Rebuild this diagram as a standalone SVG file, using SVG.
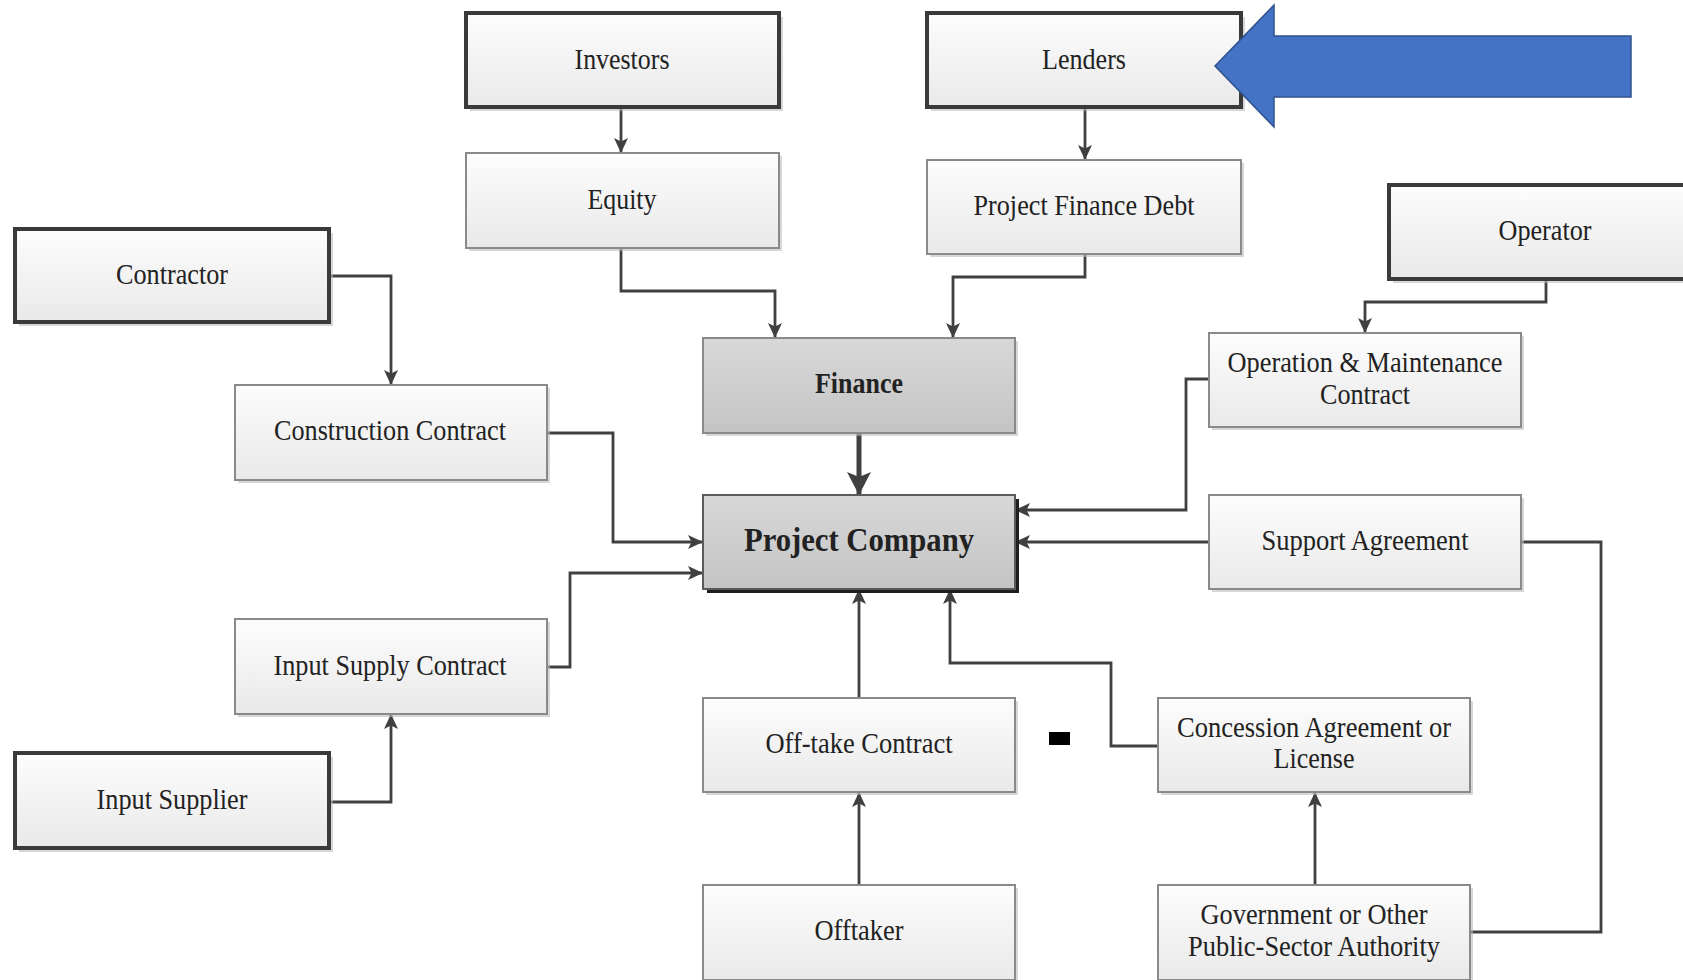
<svg xmlns="http://www.w3.org/2000/svg" width="1683" height="980" viewBox="0 0 1683 980">
<defs>
<linearGradient id="g" x1="0" y1="0" x2="0" y2="1"><stop offset="0" stop-color="#fdfdfd"/><stop offset="1" stop-color="#e9e9e9"/></linearGradient>
<linearGradient id="gd" x1="0" y1="0" x2="0" y2="1"><stop offset="0" stop-color="#d8d8d8"/><stop offset="1" stop-color="#c4c4c4"/></linearGradient>
<marker id="ar" markerUnits="userSpaceOnUse" markerWidth="16" markerHeight="16" refX="15" refY="8" orient="auto"><path d="M0,1 L15,8 L0,15 L3.5,8 z" fill="#404040"/></marker>
<marker id="arb" markerUnits="userSpaceOnUse" markerWidth="26" markerHeight="26" refX="23" refY="13" orient="auto"><path d="M0,1 L23,13 L0,25 L5,13 z" fill="#404040"/></marker>
<style>
.sh{fill:#bdbdbd;opacity:0.6}
.b{fill:url(#g);stroke:#8a8a8a;stroke-width:2}
.bk{fill:url(#g);stroke:#3a3a3a;stroke-width:4}
.bg{fill:url(#gd);stroke:#8a8a8a;stroke-width:2}
.t{font-family:"Liberation Serif","Times New Roman",serif;font-size:29px;fill:#222;text-anchor:middle;dominant-baseline:central}
.tb{font-weight:bold}
.c{fill:none;stroke:#404040;stroke-width:2.8;marker-end:url(#ar)}
.cn{fill:none;stroke:#404040;stroke-width:2.8}
</style>
</defs>
<rect width="1683" height="980" fill="#ffffff"/>

<g id="connectors">
<path class="c" d="M621,107 V153"/>
<path class="c" d="M1085,107 V160"/>
<path class="c" d="M621,248 V291 H775 V338"/>
<path class="c" d="M1085,254 V277 H953 V338"/>
<path d="M859,433 V495" fill="none" stroke="#404040" stroke-width="5" marker-end="url(#arb)"/>
<path class="c" d="M329,276 H391 V385"/>
<path class="c" d="M547,433 H613 V542 H703"/>
<path class="c" d="M547,667 H570 V573 H703"/>
<path class="c" d="M329,802 H391 V714"/>
<path class="c" d="M1546,279 V302 H1365 V333"/>
<path class="c" d="M1209,379 H1186 V510 H1015"/>
<path class="c" d="M1209,542 H1015"/>
<path class="c" d="M859,698 V589"/>
<path class="c" d="M859,885 V792"/>
<path class="c" d="M1158,746 H1111 V663 H950 V589"/>
<path class="c" d="M1315,885 V792"/>
<path class="cn" d="M1521,542 H1601 V932 H1470"/>
</g>

<g id="investors"><rect class="sh" x="470" y="17" width="313" height="94"/><rect class="bk" x="466" y="13" width="313" height="94"/><text class="t" x="622" y="59" textLength="95" lengthAdjust="spacingAndGlyphs">Investors</text></g>
<g id="lenders"><rect class="sh" x="931" y="17" width="314" height="94"/><rect class="bk" x="927" y="13" width="314" height="94"/><text class="t" x="1084" y="59" textLength="84" lengthAdjust="spacingAndGlyphs">Lenders</text></g>
<g id="equity"><rect class="sh" x="469" y="156" width="313" height="95"/><rect class="b" x="466" y="153" width="313" height="95"/><text class="t" x="622" y="199" textLength="69" lengthAdjust="spacingAndGlyphs">Equity</text></g>
<g id="pfdebt"><rect class="sh" x="930" y="163" width="314" height="94"/><rect class="b" x="927" y="160" width="314" height="94"/><text class="t" x="1084" y="205" textLength="221" lengthAdjust="spacingAndGlyphs">Project Finance Debt</text></g>
<g id="contractor"><rect class="sh" x="19" y="233" width="314" height="93"/><rect class="bk" x="15" y="229" width="314" height="93"/><text class="t" x="172" y="274" textLength="112" lengthAdjust="spacingAndGlyphs">Contractor</text></g>
<g id="operator"><rect class="sh" x="1393" y="189" width="310" height="94"/><rect class="bk" x="1389" y="185" width="310" height="94"/><text class="t" x="1545" y="230" textLength="93" lengthAdjust="spacingAndGlyphs">Operator</text></g>
<g id="construction"><rect class="sh" x="238" y="388" width="312" height="95"/><rect class="b" x="235" y="385" width="312" height="95"/><text class="t" x="390" y="430" textLength="232" lengthAdjust="spacingAndGlyphs">Construction Contract</text></g>
<g id="finance"><rect class="sh" x="706" y="341" width="312" height="95"/><rect class="bg" x="703" y="338" width="312" height="95"/><text class="t tb" x="859" y="383" textLength="88" lengthAdjust="spacingAndGlyphs">Finance</text></g>
<g id="om"><rect class="sh" x="1212" y="336" width="312" height="94"/><rect class="b" x="1209" y="333" width="312" height="94"/><text class="t" x="1365" y="362" textLength="275" lengthAdjust="spacingAndGlyphs">Operation &amp; Maintenance</text><text class="t" x="1365" y="394" textLength="90" lengthAdjust="spacingAndGlyphs">Contract</text></g>
<g id="projectcompany"><rect x="707" y="499" width="312" height="94" fill="#1e1e1e"/><rect x="703" y="495" width="312" height="94" fill="url(#gd)" stroke="#5a5a5a" stroke-width="2"/><text class="t tb" x="859" y="540" style="font-size:33px" textLength="230" lengthAdjust="spacingAndGlyphs">Project Company</text></g>
<g id="support"><rect class="sh" x="1212" y="498" width="312" height="94"/><rect class="b" x="1209" y="495" width="312" height="94"/><text class="t" x="1365" y="540" textLength="207" lengthAdjust="spacingAndGlyphs">Support Agreement</text></g>
<g id="inputsupply"><rect class="sh" x="238" y="622" width="312" height="95"/><rect class="b" x="235" y="619" width="312" height="95"/><text class="t" x="390" y="665" textLength="233" lengthAdjust="spacingAndGlyphs">Input Supply Contract</text></g>
<g id="inputsupplier"><rect class="sh" x="19" y="757" width="314" height="95"/><rect class="bk" x="15" y="753" width="314" height="95"/><text class="t" x="172" y="799" textLength="151" lengthAdjust="spacingAndGlyphs">Input Supplier</text></g>
<g id="offtake"><rect class="sh" x="706" y="701" width="312" height="94"/><rect class="b" x="703" y="698" width="312" height="94"/><text class="t" x="859" y="743" textLength="187" lengthAdjust="spacingAndGlyphs">Off-take Contract</text></g>
<g id="concession"><rect class="sh" x="1161" y="701" width="312" height="94"/><rect class="b" x="1158" y="698" width="312" height="94"/><text class="t" x="1314" y="727" textLength="274" lengthAdjust="spacingAndGlyphs">Concession Agreement or</text><text class="t" x="1314" y="758" textLength="81" lengthAdjust="spacingAndGlyphs">License</text></g>
<g id="offtaker"><rect class="sh" x="706" y="888" width="312" height="95"/><rect class="b" x="703" y="885" width="312" height="95"/><text class="t" x="859" y="930" textLength="89" lengthAdjust="spacingAndGlyphs">Offtaker</text></g>
<g id="government"><rect class="sh" x="1161" y="888" width="312" height="95"/><rect class="b" x="1158" y="885" width="312" height="95"/><text class="t" x="1314" y="914" textLength="227" lengthAdjust="spacingAndGlyphs">Government or Other</text><text class="t" x="1314" y="946" textLength="252" lengthAdjust="spacingAndGlyphs">Public-Sector Authority</text></g>

<rect id="mark" x="1049" y="732" width="21" height="13" fill="#000"/>
<polygon id="bluearrow" points="1215,66 1274,5 1274,36 1631,36 1631,97 1274,97 1274,127" fill="#4472C4" stroke="#2F528F" stroke-width="1.5"/>
</svg>
